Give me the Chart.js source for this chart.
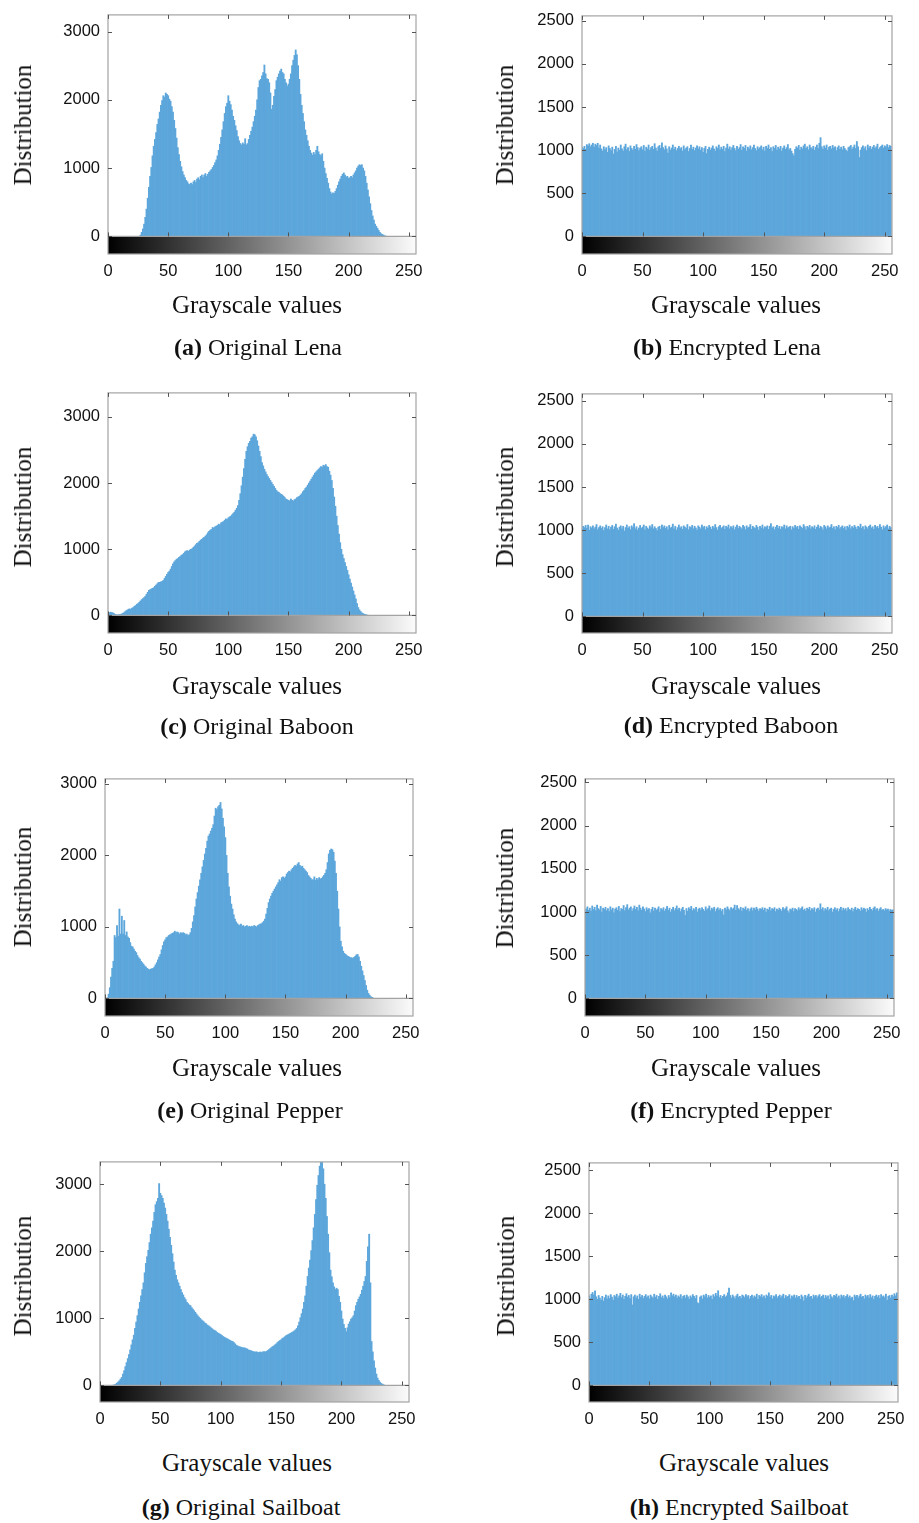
<!DOCTYPE html>
<html>
<head>
<meta charset="utf-8">
<script src="https://cdn.jsdelivr.net/npm/chart.js@4.4.1/dist/chart.umd.min.js"></script>
<style>
  body { margin: 0; background: #fff; }
  #page { position: relative; width: 919px; height: 1523px; overflow: hidden;
          font-family: "Liberation Serif", "Times New Roman", serif; color: #111; }
  canvas { position: absolute; }
  .ytitle { position: absolute; font-size: 25px; white-space: nowrap; transform: translate(-50%, -50%) rotate(-90deg); }
  .xtitle { position: absolute; font-size: 25px; white-space: nowrap; transform: translate(-50%, -50%); }
  .caption { position: absolute; font-size: 24px; white-space: nowrap; transform: translate(-50%, -50%); }
</style>
</head>
<body>
<div id="page"></div>
<script>
// tick labels
const xTicks = [0, 50, 100, 150, 200, 250];
const origTicks = [0, 1000, 2000, 3000];
const encTicks = [0, 500, 1000, 1500, 2000, 2500];

// histogram counts, one value per gray level 0..255
const lenaOrig = [
  0, 0, 0, 0, 0, 0, 0, 0, 0, 0,
  0, 0, 0, 0, 0, 0, 0, 0, 0, 0,
  0, 0, 0, 0, 0, 0, 0, 20, 60, 110,
  180, 280, 400, 560, 720, 880, 1010, 1180, 1320, 1420,
  1520, 1640, 1720, 1820, 1920, 1990, 2060, 2040, 2100, 2080,
  2060, 2010, 1980, 1900, 1820, 1700, 1580, 1440, 1300, 1200,
  1100, 1020, 950, 900, 860, 820, 800, 770, 760, 780,
  760, 800, 820, 790, 840, 860, 830, 880, 900, 860,
  900, 920, 880, 910, 940, 960, 980, 1010, 1040, 1080,
  1120, 1180, 1260, 1350, 1450, 1560, 1680, 1800, 1900, 1950,
  2060, 1980, 1930, 1850, 1760, 1700, 1620, 1550, 1460, 1400,
  1360, 1340, 1370, 1350, 1430, 1340, 1360, 1420, 1480, 1540,
  1600, 1680, 1760, 1850, 2000, 2180, 2280, 2300, 2350, 2400,
  2510, 2380, 2310, 2300, 2250, 2100, 1860, 1920, 2050, 2150,
  2280, 2330, 2380, 2420, 2450, 2400, 2380, 2300, 2250, 2200,
  2230, 2300, 2380, 2500, 2580, 2650, 2730, 2660, 2500, 2300,
  2080, 1920, 1800, 1680, 1560, 1480, 1400, 1320, 1260, 1220,
  1190, 1230, 1200, 1260, 1320, 1240, 1200, 1180, 1210, 1100,
  1000, 920, 850, 780, 700, 650, 620, 640, 630, 660,
  700, 750, 800, 840, 880, 910, 930, 900, 870, 880,
  850, 860, 880, 860, 900, 930, 960, 1000, 1030, 1050,
  1040, 1050, 1000, 960, 880, 780, 680, 580, 480, 380,
  300, 240, 180, 150, 120, 90, 60, 40, 30, 20,
  10, 5, 0, 0, 0, 0, 0, 0, 0, 0,
  0, 0, 0, 0, 0, 0, 0, 0, 0, 0,
  0, 0, 0, 0, 0, 0
];

const lenaEnc = [
  1030, 1020, 1045, 1010, 1065, 1050, 1075, 1040, 1060, 1080, 1035, 1070, 1055, 1080, 1025, 1060,
  1015, 990, 1040, 1005, 1030, 975, 1050, 1020, 995, 1035, 955, 1010, 1045, 980, 1025, 1000,
  1060, 1015, 990, 1040, 1070, 1005, 1030, 985, 1050, 1020, 1000, 1045, 1010, 1065, 1030, 995,
  1025, 1040, 1005, 1055, 990, 1035, 1015, 1060, 1000, 1030, 1045, 1010, 1075, 1025, 990, 1040,
  1055, 1020, 1085, 1030, 1005, 1050, 1015, 965, 1040, 1000, 1025, 1060, 1010, 1035, 995, 1020,
  1045, 1015, 1030, 990, 1050, 1005, 1025, 1040, 985, 1020, 1060, 1010, 1035, 995, 1025, 1050,
  1015, 1040, 1000, 1030, 975, 1020, 1045, 960, 1010, 1035, 1000, 1025, 1050, 1015, 990, 1040,
  1020, 1060, 1005, 1035, 1010, 1045, 985, 1025, 1070, 1015, 1040, 1000, 1030, 1055, 1020, 995,
  1045, 1010, 1030, 1065, 1000, 1040, 1020, 1055, 990, 1035, 1015, 1050, 1005, 1030, 1060, 1020,
  995, 1040, 1015, 1030, 1050, 1005, 1035, 990, 1045, 1020, 1060, 1010, 1030, 985, 1040, 1020,
  1055, 1000, 1035, 1015, 1045, 990, 1025, 1050, 1010, 1030, 1065, 1005, 1020, 990, 960, 935,
  1010, 1040, 1025, 1055, 1000, 1035, 1015, 1050, 1070, 1020, 1040, 1005, 1060, 1030, 1015, 1045,
  1000, 1035, 1060, 1020, 1080, 1145, 1040, 1010, 1050, 1025, 1060, 1000, 1035, 1045, 1015, 1055,
  1025, 1040, 995, 1030, 1050, 1010, 1035, 1005, 1045, 1020, 1000, 985, 1030, 1040, 1055, 1010,
  1035, 1060, 1020, 1100, 1040, 915, 1000, 1030, 1050, 1015, 1040, 995, 1060, 1025, 1045, 1010,
  1035, 1055, 1020, 1040, 1070, 1010, 1030, 1045, 1060, 1025, 1050, 1040, 1065, 1030, 1055, 1045
];

const baboonOrig = [
  30, 40, 50, 45, 40, 30, 15, 10, 10, 12,
  15, 20, 30, 40, 55, 70, 80, 95, 100, 95,
  110, 120, 140, 150, 170, 180, 200, 220, 240, 255,
  270, 290, 320, 350, 380, 390, 400, 410, 420, 440,
  460, 480, 500, 500, 510, 515, 530, 560, 590, 620,
  650, 670, 700, 740, 780, 810, 830, 850, 860, 880,
  890, 910, 920, 940, 960, 975, 980, 970, 990, 1000,
  1010, 1030, 1050, 1070, 1090, 1100, 1120, 1140, 1150, 1170,
  1180, 1200, 1220, 1250, 1270, 1290, 1300, 1330, 1320, 1340,
  1350, 1360, 1380, 1370, 1400, 1410, 1420, 1440, 1460, 1450,
  1475, 1490, 1500, 1520, 1540, 1560, 1590, 1620, 1660, 1740,
  1840, 1960, 2090, 2220, 2360, 2480, 2550, 2600, 2630, 2680,
  2700, 2740, 2730, 2700, 2640, 2560, 2480, 2400, 2310, 2260,
  2210, 2170, 2130, 2100, 2070, 2040, 2010, 1980, 1950, 1920,
  1890, 1870, 1860, 1840, 1830, 1820, 1800, 1780, 1760, 1750,
  1740, 1730, 1760, 1740, 1730, 1750, 1760, 1780, 1790, 1800,
  1820, 1840, 1870, 1890, 1920, 1940, 1970, 2000, 2030, 2060,
  2090, 2120, 2150, 2170, 2190, 2210, 2230, 2250, 2240, 2270,
  2260, 2280, 2250, 2240, 2180, 2120, 2040, 1920, 1790, 1650,
  1500, 1360, 1230, 1100, 1000, 920, 860, 800, 740, 680,
  615, 550, 490, 430, 370, 310, 250, 180, 120, 85,
  60, 40, 30, 20, 15, 8, 4, 0, 0, 0,
  0, 0, 0, 0, 0, 0, 0, 0, 0, 0,
  0, 0, 0, 0, 0, 0, 0, 0, 0, 0,
  0, 0, 0, 0, 0, 0, 0, 0, 0, 0,
  0, 0, 0, 0, 0, 0
];

const baboonEnc = [
  1010, 1045, 1030, 1055, 1020, 1060, 1000, 1040, 1025, 1050, 1015, 1035, 1065, 1005, 1030, 1050,
  1020, 1040, 995, 1030, 1060, 1015, 1045, 1005, 1035, 1055, 1010, 1040, 1070, 1025, 1000, 1035,
  1050, 1015, 1045, 990, 1030, 1060, 1020, 1040, 1005, 1050, 1030, 1075, 1015, 1040, 1000, 1025,
  1055, 1020, 1035, 1060, 1005, 1045, 1025, 1010, 1050, 1030, 1065, 1015, 1040, 1020, 995, 1035,
  1045, 1010, 1060, 1030, 1050, 1020, 1040, 1005, 1055, 1025, 1035, 1070, 1015, 1045, 1000, 1030,
  1060, 1025, 1040, 1010, 1050, 1035, 1020, 1065, 1005, 1040, 1030, 1055, 1015, 1045, 1025, 1000,
  1050, 1035, 1015, 1060, 1030, 1045, 1005, 1040, 1020, 1055, 1035, 1010, 1045, 1025, 1065, 1030,
  1000, 1040, 1055, 1020, 1035, 1050, 1010, 1045, 1030, 1060, 1015, 1040, 1025, 1050, 1005, 1035,
  1060, 1020, 1045, 1030, 1015, 1055, 1040, 1005, 1050, 1025, 1035, 1065, 1010, 1045, 1030, 1020,
  1055, 1035, 1000, 1045, 1025, 1060, 1015, 1040, 1030, 1050, 1010, 1045, 1075, 1025, 1040, 1005,
  1035, 1055, 1020, 1045, 1010, 1040, 1030, 1060, 1015, 1050, 1025, 1035, 1045, 1005, 1040, 1020,
  1055, 1030, 1045, 1010, 1050, 1035, 1020, 1065, 1040, 1005, 1045, 1030, 1055, 1015, 1040, 1025,
  1050, 1010, 1035, 1060, 1020, 1045, 1030, 1005, 1055, 1040, 1015, 1050, 1025, 1035, 1065, 1020,
  1040, 1005, 1045, 1030, 1055, 1015, 1035, 1050, 1020, 1040, 1000, 1045, 1030, 1060, 1015, 1040,
  1025, 1055, 1035, 1010, 1045, 1030, 1070, 1020, 1040, 1005, 1050, 1035, 1015, 1045, 1060, 1025,
  1040, 1010, 1055, 1030, 1045, 1020, 1065, 1035, 1005, 1050, 1025, 1040, 1060, 1015, 1045, 1030
];

const pepperOrig = [
  0, 0, 10, 60, 150, 300, 420, 520, 880, 850,
  1020, 870, 1250, 900, 1150, 900, 1090, 880, 930, 860,
  840, 780, 730, 720, 690, 660, 640, 600, 570, 550,
  520, 500, 480, 455, 440, 420, 410, 400, 410, 415,
  420, 440, 470, 500, 540, 580, 615, 680, 740, 790,
  820, 850, 860, 880, 890, 900, 910, 920, 940, 920,
  930, 920, 900, 920, 910, 920, 910, 890, 900, 880,
  890, 920, 980, 1070, 1160, 1280, 1390, 1480, 1570, 1660,
  1750, 1840, 1930, 2020, 2100, 2200, 2270, 2300, 2340, 2380,
  2430, 2550, 2660, 2640, 2680, 2700, 2740, 2650, 2520, 2400,
  2250, 2000, 1750, 1560, 1430, 1320, 1250, 1170, 1110, 1070,
  1045, 1030, 1020, 1040, 1010, 1020, 1000, 1010, 1020, 1000,
  1010, 1000, 1010, 1000, 1020, 1010, 1000, 1020, 1030, 1040,
  1045, 1060, 1080, 1110, 1180, 1260, 1340, 1390, 1430, 1470,
  1500, 1530, 1560, 1590, 1620, 1660, 1640, 1690, 1700, 1680,
  1700, 1740, 1760, 1780, 1770, 1800, 1820, 1840, 1860, 1850,
  1880, 1900, 1860, 1840, 1850, 1820, 1800, 1780, 1760, 1720,
  1700, 1680, 1660, 1660, 1700, 1650, 1680, 1660, 1690, 1670,
  1680, 1700, 1720, 1750, 1800, 1900, 2020, 2070, 2090, 2080,
  2045, 1920, 1750, 1500, 1250, 1000, 800, 720, 660, 630,
  615, 600, 590, 580, 570, 570, 560, 575, 590, 610,
  615, 580, 520, 450, 385, 320, 250, 180, 115, 70,
  45, 25, 15, 5, 0, 0, 0, 0, 0, 0,
  0, 0, 0, 0, 0, 0, 0, 0, 0, 0,
  0, 0, 0, 0, 0, 0, 0, 0, 0, 0,
  0, 0, 0, 0, 0, 0
];

const pepperEnc = [
  1000, 1035, 1060, 1020, 1045, 1010, 1070, 1030, 1055, 1015, 1080, 1040, 1025, 1065, 1000, 1045,
  1030, 1055, 1015, 1040, 1005, 1060, 1025, 1045, 990, 1035, 1050, 1020, 1065, 1005, 1040, 1030,
  1075, 1015, 1050, 1085, 1025, 1045, 1060, 1010, 1040, 1070, 1030, 1055, 1015, 1080, 1045, 1020,
  1060, 1035, 1005, 1050, 1025, 1040, 990, 1030, 1055, 1010, 1045, 1020, 1035, 1060, 1000, 1040,
  1025, 1050, 1010, 1035, 1065, 1020, 1045, 1000, 1030, 1055, 1015, 1040, 1070, 1025, 1045, 1005,
  1035, 1055, 1020, 960, 1040, 1010, 1050, 1030, 1065, 1015, 1040, 1025, 1055, 1000, 1035, 1045,
  1020, 1050, 1030, 1010, 1060, 1025, 1040, 1070, 1015, 1045, 1030, 1055, 1005, 1035, 1050, 1020,
  1040, 1010, 1030, 965, 1045, 1025, 1060, 1035, 1015, 1050, 1030, 1045, 1080, 1020, 1075, 1040,
  1025, 1055, 1010, 1045, 1030, 1060, 1020, 1040, 1005, 1035, 1050, 1015, 1045, 1025, 1055, 1035,
  1010, 1040, 1030, 1050, 1020, 1045, 1000, 1035, 1025, 1055, 1015, 1040, 1030, 1050, 1005, 1035,
  1020, 1045, 1030, 1010, 1050, 1025, 1040, 1060, 1015, 990, 1035, 1025, 1045, 1005, 1040, 1030,
  1015, 1050, 1025, 1040, 1060, 1020, 1035, 1010, 1045, 1030, 1055, 1015, 1040, 1025, 1050, 1000,
  1035, 1045, 1020, 1095, 1030, 1050, 1010, 1040, 1025, 1055, 1015, 1035, 1045, 1000, 1030, 1050,
  1020, 1040, 1005, 1035, 1055, 1015, 1045, 1025, 1040, 1010, 1050, 1030, 1020, 1045, 1005, 1035,
  1055, 1020, 1040, 1030, 1010, 1050, 1025, 1045, 1035, 1000, 1040, 1020, 1055, 1030, 1015, 1045,
  1060, 1025, 1040, 1010, 1035, 1050, 1020, 1030, 1015, 1040, 1025, 1035, 1010, 1030, 1020, 1025
];

const sailboatOrig = [
  0, 0, 0, 0, 0, 0, 0, 0, 0, 0,
  0, 5, 10, 20, 35, 50, 70, 95, 120, 170,
  220, 280, 340, 400, 460, 530, 605, 680, 750, 850,
  945, 1040, 1140, 1240, 1335, 1430, 1530, 1680, 1820, 1920,
  2015, 2130, 2255, 2350, 2450, 2580, 2695, 2740, 2790, 3010,
  2865, 2830, 2790, 2720, 2645, 2550, 2450, 2330, 2210, 2090,
  1965, 1840, 1720, 1640, 1575, 1530, 1480, 1430, 1385, 1350,
  1310, 1280, 1240, 1220, 1200, 1190, 1160, 1140, 1115, 1090,
  1065, 1040, 1020, 1000, 980, 965, 950, 930, 920, 900,
  890, 875, 860, 845, 830, 820, 810, 790, 780, 770,
  760, 745, 730, 720, 710, 700, 690, 680, 670, 660,
  655, 640, 620, 600, 590, 580, 575, 570, 565, 560,
  560, 550, 545, 530, 525, 520, 510, 505, 500, 500,
  500, 490, 495, 500, 490, 500, 505, 500, 510, 520,
  535, 550, 565, 580, 590, 605, 620, 640, 655, 670,
  680, 700, 710, 725, 740, 750, 760, 770, 780, 790,
  800, 815, 830, 850, 890, 945, 1010, 1070, 1140, 1240,
  1335, 1480, 1625, 1750, 1870, 2010, 2160, 2350, 2550, 2770,
  2985, 3130, 3270, 3450, 3400, 3230, 3000, 2790, 2520, 2255,
  1980, 1720, 1620, 1530, 1470, 1430, 1450, 1430, 1330, 1240,
  1110, 990, 910, 850, 800, 860, 915, 950, 990, 1010,
  1040, 1110, 1190, 1240, 1285, 1320, 1360, 1420, 1480, 1550,
  1625, 1850, 2065, 2255, 1530, 655, 500, 365, 260, 170,
  110, 75, 50, 30, 20, 10, 0, 0, 0, 0,
  0, 0, 0, 0, 0, 0, 0, 0, 0, 0,
  0, 0, 0, 0, 0, 0
];

const sailboatEnc = [
  1040, 1010, 1060, 1080, 1050, 1100, 1030, 1000, 1045, 1015, 990, 1035, 980, 1020, 1050, 1005,
  1040, 1010, 1055, 1025, 990, 1045, 1030, 1060, 1015, 1040, 1070, 1020, 1050, 1000, 1035, 1065,
  1025, 1045, 1010, 1055, 935, 1030, 1050, 1015, 1040, 1000, 1060, 1025, 1045, 1010, 1035, 1055,
  1020, 1040, 1005, 1050, 1030, 1015, 1060, 1025, 1045, 1000, 1035, 1065, 1020, 1040, 1010, 1050,
  1030, 1005, 1045, 1020, 1075, 1040, 1060, 1030, 1050, 1015, 1040, 1025, 1055, 1005, 1035, 1045,
  1015, 1050, 1030, 1000, 1040, 1020, 1055, 1035, 1010, 1045, 960, 950, 1025, 1040, 1005, 1050,
  1030, 1060, 1015, 1045, 1025, 1040, 1000, 1055, 1030, 1070, 1040, 1100, 1020, 1045, 1010, 1035,
  1055, 1025, 1040, 1075, 1130, 1045, 1015, 1050, 1030, 1005, 1040, 1060, 1025, 1035, 1010, 1050,
  1040, 1020, 1055, 1030, 1045, 1005, 1035, 1050, 1015, 1040, 1025, 1060, 1000, 1045, 1030, 1055,
  1020, 1040, 1010, 1050, 1035, 1075, 1025, 1045, 1005, 1040, 1030, 1055, 1015, 1035, 1050, 1020,
  1040, 1060, 1010, 1045, 1025, 1035, 1055, 1005, 1040, 1030, 1050, 1015, 1045, 1020, 1035, 1000,
  1050, 1030, 980, 1045, 1015, 1040, 1060, 1025, 1035, 1005, 1050, 1030, 1045, 1015, 1040, 1055,
  1020, 1035, 1050, 1010, 1045, 1025, 1040, 1000, 1055, 1030, 1015, 1045, 1035, 1060, 1020, 1040,
  1005, 1050, 1030, 1045, 1015, 1035, 1055, 1020, 1040, 1010, 1025, 985, 1050, 1030, 1045, 1015,
  1040, 1060, 1025, 1035, 1005, 1050, 1030, 1045, 1015, 1055, 1020, 1040, 1000, 1035, 1050, 1025,
  1045, 1010, 1055, 1030, 1040, 1020, 1060, 990, 1035, 1045, 1015, 1050, 1030, 1065, 1040, 1075
];

const barColor = 'rgb(92, 166, 219)';
const frameColor = '#a3a3a3';
const tickMarkColor = '#555';
const tickFont = { family: '"Liberation Sans", Arial, sans-serif', size: 16.5 };

// box = [left, top, right, bottom] of the plot area in page pixels
const panels = [
  { tag: 'a', name: 'Original Lena', data: lenaOrig, yTicks: origTicks, yMin: -257, yMax: 3243,
    box: [108, 9, 416, 254], yTitle: [23, 125], xTitle: [257, 305], caption: [258, 347] },
  { tag: 'b', name: 'Encrypted Lena', data: lenaEnc, yTicks: encTicks, yMin: -204, yMax: 2557,
    box: [582, 10, 892, 254], yTitle: [505, 125], xTitle: [736, 305], caption: [727, 347] },
  { tag: 'c', name: 'Original Baboon', data: baboonOrig, yTicks: origTicks, yMin: -265, yMax: 3363,
    box: [108, 387, 416, 633], yTitle: [23, 507], xTitle: [257, 686], caption: [257, 726] },
  { tag: 'd', name: 'Encrypted Baboon', data: baboonEnc, yTicks: encTicks, yMin: -192, yMax: 2579,
    box: [582, 388, 892, 633], yTitle: [505, 507], xTitle: [736, 686], caption: [731, 725] },
  { tag: 'e', name: 'Original Pepper', data: pepperOrig, yTicks: origTicks, yMin: -246, yMax: 3070,
    box: [105, 773, 413, 1016], yTitle: [23, 887], xTitle: [257, 1068], caption: [250, 1110] },
  { tag: 'f', name: 'Encrypted Pepper', data: pepperEnc, yTicks: encTicks, yMin: -203, yMax: 2540,
    box: [585, 773, 894, 1016], yTitle: [505, 888], xTitle: [736, 1068], caption: [731, 1110] },
  { tag: 'g', name: 'Original Sailboat', data: sailboatOrig, yTicks: origTicks, yMin: -247, yMax: 3333,
    box: [100, 1156, 409, 1402], yTitle: [23, 1276], xTitle: [247, 1463], caption: [241, 1507] },
  { tag: 'h', name: 'Encrypted Sailboat', data: sailboatEnc, yTicks: encTicks, yMin: -193, yMax: 2585,
    box: [589, 1157, 898, 1402], yTitle: [506, 1276], xTitle: [744, 1463], caption: [739, 1507] }
];

// grayscale strip under the zero line, frame and inward tick marks
const stripPlugin = {
  id: 'strip',
  beforeDatasetsDraw(chart) {
    const { ctx, chartArea: a, scales: { y } } = chart;
    const y0 = y.getPixelForValue(0);
    const grad = ctx.createLinearGradient(a.left, 0, a.right, 0);
    grad.addColorStop(0, '#000');
    grad.addColorStop(1, '#fbfbfb');
    ctx.save();
    ctx.fillStyle = grad;
    ctx.fillRect(a.left, y0, a.right - a.left, a.bottom - y0);
    ctx.restore();
  },
  afterDraw(chart) {
    const { ctx, chartArea: a, scales: { x, y } } = chart;
    const y0 = y.getPixelForValue(0);
    ctx.save();
    ctx.strokeStyle = frameColor;
    ctx.lineWidth = 1.2;
    ctx.strokeRect(a.left, a.top, a.right - a.left, a.bottom - a.top);
    ctx.beginPath();
    ctx.moveTo(a.left, y0);
    ctx.lineTo(a.right, y0);
    ctx.stroke();
    ctx.strokeStyle = tickMarkColor;
    ctx.lineWidth = 1;
    ctx.beginPath();
    xTicks.forEach((v) => {
      const px = Math.round(x.getPixelForValue(v)) + 0.5;
      ctx.moveTo(px, a.top); ctx.lineTo(px, a.top + 4);
      ctx.moveTo(px, y0); ctx.lineTo(px, y0 - 4);
    });
    chart.options.scales.y.ticksList.forEach((v) => {
      const py = Math.round(y.getPixelForValue(v)) + 0.5;
      ctx.moveTo(a.left, py); ctx.lineTo(a.left + 4, py);
      ctx.moveTo(a.right, py); ctx.lineTo(a.right - 4, py);
    });
    ctx.stroke();
    ctx.restore();
  }
};

const page = document.getElementById('page');

const addText = (cls, html, pos) => {
  const el = document.createElement('div');
  el.className = cls;
  el.innerHTML = html;
  el.style.left = pos[0] + 'px';
  el.style.top = pos[1] + 'px';
  page.appendChild(el);
};

const yAxisW = 100;
const xAxisH = 40;
const padTop = 12;
const padRight = 20;

panels.forEach((p) => {
  const [l, t, r, b] = p.box;
  const canvas = document.createElement('canvas');
  canvas.width = (r - l) + yAxisW + padRight;
  canvas.height = padTop + (b - t) + xAxisH;
  canvas.style.left = (l - yAxisW) + 'px';
  canvas.style.top = (t - padTop) + 'px';
  page.appendChild(canvas);

  new Chart(canvas, {
    type: 'bar',
    data: {
      datasets: [{
        data: p.data.map((v, i) => ({ x: i, y: v })),
        backgroundColor: barColor,
        borderWidth: 0,
        barPercentage: 1,
        categoryPercentage: 1
      }]
    },
    options: {
      responsive: false,
      animation: false,
      devicePixelRatio: 1,
      layout: { padding: { left: 0, top: padTop, right: padRight, bottom: 0 } },
      plugins: { legend: { display: false }, tooltip: { enabled: false } },
      scales: {
        x: {
          type: 'linear',
          min: 0,
          max: 256,
          offset: false,
          grid: { display: false, drawTicks: false },
          border: { display: false },
          ticks: { autoSkip: false, maxRotation: 0, padding: 8, color: '#111', font: tickFont,
                   callback: (v) => String(v) },
          afterBuildTicks: (s) => { s.ticks = xTicks.map((v) => ({ value: v })); },
          afterFit: (s) => { s.height = xAxisH; }
        },
        y: {
          min: p.yMin,
          max: p.yMax,
          ticksList: p.yTicks,
          grid: { display: false, drawTicks: false },
          border: { display: false },
          ticks: { padding: 8, color: '#111', font: tickFont, callback: (v) => String(v) },
          afterBuildTicks: (s) => { s.ticks = p.yTicks.map((v) => ({ value: v })); },
          afterFit: (s) => { s.width = yAxisW; }
        }
      }
    },
    plugins: [stripPlugin]
  });

  addText('ytitle', 'Distribution', p.yTitle);
  addText('xtitle', 'Grayscale values', p.xTitle);
  addText('caption', '<b>(' + p.tag + ')</b> ' + p.name, p.caption);
});
</script>
</body>
</html>
